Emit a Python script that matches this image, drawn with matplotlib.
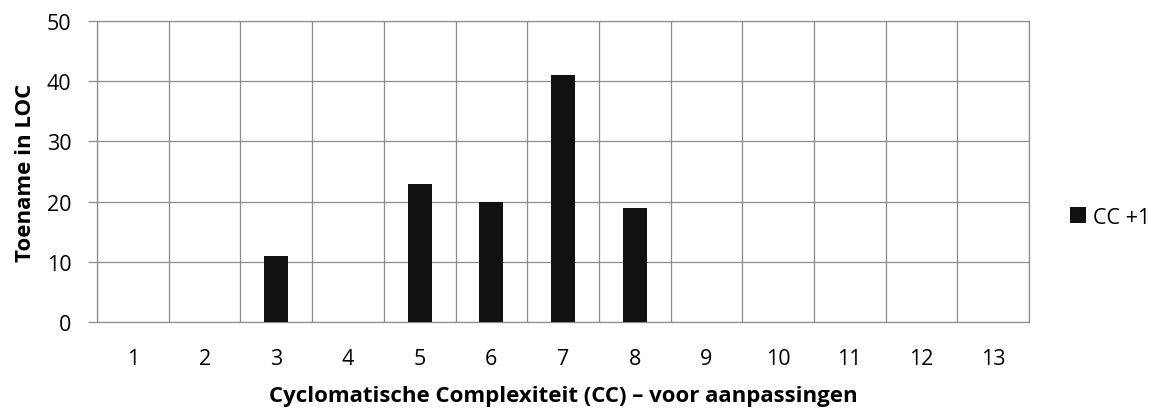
import numpy as np
import matplotlib.pyplot as plt

plt.rcParams['font.family'] = ['Open Sans', 'DejaVu Sans']

complexity = list(range(1, 14))
loc_increase = [0, 0, 11, 0, 23, 20, 41, 19, 0, 0, 0, 0, 0]
series_name = 'CC +1'

grid_col = '#8c8c8c'

fig = plt.figure(figsize=(11.54, 4.10), dpi=100)
ax = fig.add_axes([0.0841, 0.2122, 0.8076, 0.7341])

ax.bar(complexity, loc_increase, width=1 / 3, color='#111111', label=series_name, zorder=3)

ax.set_xlim(0.5, 13.5)
ax.set_ylim(0, 50)
ax.set_yticks(np.arange(0, 51, 10))
ax.set_xticks(complexity)
ax.set_xticks(np.arange(0.5, 14, 1), minor=True)

ax.grid(True, which='minor', axis='x', color=grid_col, lw=0.9, zorder=0)
ax.grid(True, which='major', axis='y', color=grid_col, lw=0.9, zorder=0)
ax.tick_params(axis='x', which='both', length=0, labelsize=15.5, pad=18.5)
ax.tick_params(axis='y', length=6.5, width=0.9, color=grid_col, labelsize=15.5, pad=12)
for s in ax.spines.values():
    s.set_color(grid_col)
    s.set_linewidth(0.9)

ax.set_xlabel('Cyclomatische Complexiteit (CC) – voor aanpassingen',
              fontsize=16, fontweight='bold', labelpad=12)
ax.set_ylabel('Toename in LOC', fontsize=16, fontweight='bold', labelpad=8)

fig.legend(loc='center left', bbox_to_anchor=(0.927, 0.468), frameon=False,
           fontsize=15.5, handlelength=0.75, handleheight=0.75, handletextpad=0.35,
           borderaxespad=0, borderpad=0)

fig.savefig('out.png', dpi=100)
